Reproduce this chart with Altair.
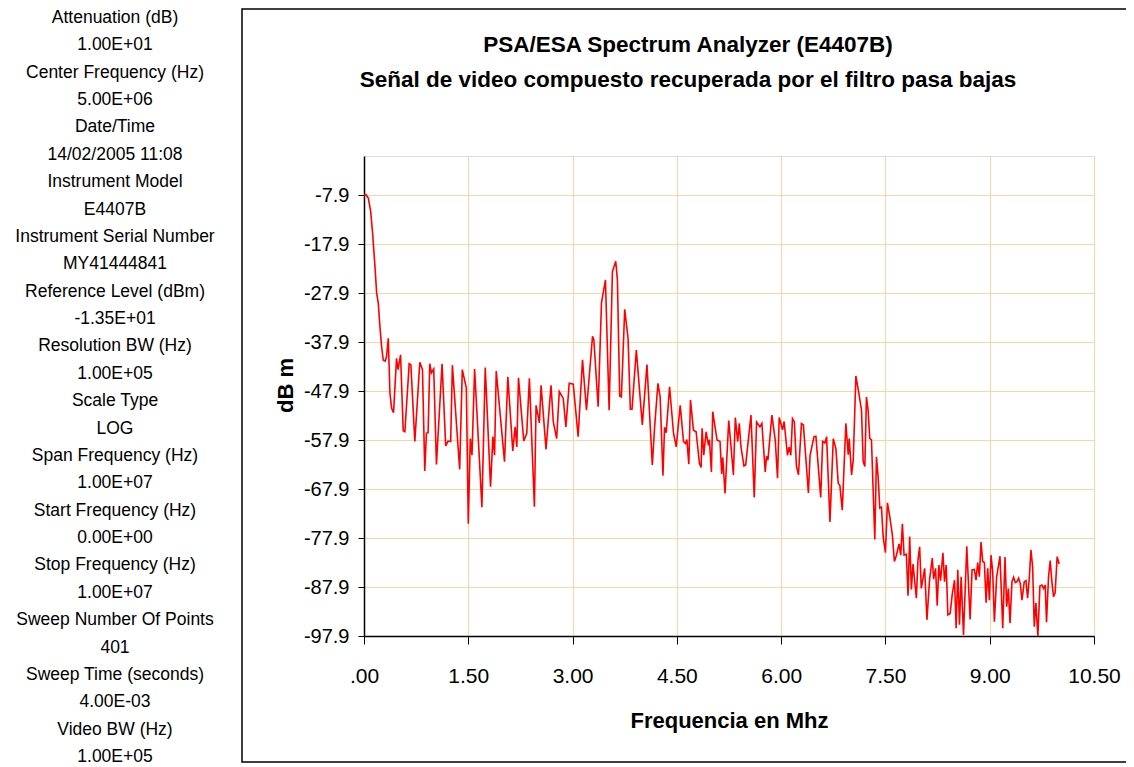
import altair as alt
import pandas as pd

# ---------------- data ----------------
FREQ_MHZ = [
    0.000, 0.029, 0.062, 0.096, 0.124, 0.158, 0.182, 0.205, 0.229, 0.253,
    0.277, 0.306, 0.325, 0.349, 0.373, 0.397, 0.425, 0.468, 0.490, 0.526,
    0.564, 0.588, 0.650, 0.674, 0.731, 0.803, 0.841, 0.874, 0.898, 0.922,
    0.946, 0.970, 1.003, 1.042, 1.123, 1.175, 1.209, 1.247, 1.271, 1.376,
    1.414, 1.472, 1.500, 1.529, 1.553, 1.591, 1.696, 1.744, 1.820, 1.854,
    1.878, 1.902, 2.021, 2.069, 2.140, 2.174, 2.198, 2.222, 2.298, 2.341,
    2.379, 2.451, 2.475, 2.523, 2.547, 2.618, 2.690, 2.723, 2.771, 2.809,
    2.866, 2.904, 2.952, 3.010, 3.080, 3.143, 3.200, 3.287, 3.306, 3.368,
    3.416, 3.473, 3.526, 3.573, 3.621, 3.645, 3.678, 3.702, 3.750, 3.798,
    3.831, 3.855, 3.917, 4.003, 4.070, 4.147, 4.180, 4.228, 4.260, 4.300,
    4.323, 4.347, 4.395, 4.452, 4.491, 4.548, 4.596, 4.624, 4.644, 4.672,
    4.696, 4.739, 4.777, 4.825, 4.849, 4.863, 4.887, 4.921, 4.954, 4.968,
    4.997, 5.016, 5.078, 5.121, 5.145, 5.160, 5.193, 5.246, 5.279, 5.313,
    5.341, 5.375, 5.398, 5.422, 5.465, 5.490, 5.566, 5.613, 5.647, 5.695,
    5.723, 5.771, 5.790, 5.810, 5.867, 5.915, 5.948, 5.972, 6.020, 6.043,
    6.091, 6.115, 6.139, 6.163, 6.190, 6.220, 6.249, 6.292, 6.320, 6.392,
    6.416, 6.473, 6.500, 6.569, 6.597, 6.630, 6.654, 6.702, 6.750, 6.788,
    6.821, 6.845, 6.879, 6.931, 6.965, 6.979, 7.013, 7.037, 7.075, 7.122,
    7.156, 7.180, 7.204, 7.227, 7.251, 7.275, 7.299, 7.347, 7.371, 7.395,
    7.419, 7.443, 7.467, 7.500, 7.529, 7.562, 7.600, 7.629, 7.658, 7.696,
    7.720, 7.744, 7.768, 7.801, 7.825, 7.849, 7.873, 7.897, 7.945, 7.968,
    7.992, 8.016, 8.064, 8.097, 8.135, 8.174, 8.193, 8.221, 8.245, 8.269,
    8.293, 8.327, 8.350, 8.374, 8.398, 8.431, 8.460, 8.494, 8.517, 8.541,
    8.565, 8.589, 8.623, 8.670, 8.718, 8.746, 8.779, 8.803, 8.827, 8.851,
    8.875, 8.899, 8.923, 8.948, 8.971, 8.995, 9.019, 9.043, 9.067, 9.100,
    9.148, 9.187, 9.220, 9.244, 9.268, 9.292, 9.320, 9.344, 9.368, 9.392,
    9.416, 9.440, 9.464, 9.497, 9.521, 9.545, 9.569, 9.593, 9.617, 9.641,
    9.664, 9.693, 9.722, 9.751, 9.774, 9.798, 9.817, 9.846, 9.870, 9.894,
    9.918, 9.941, 9.970, 9.999,
]

LEVEL_DBM = [
    -7.9, -7.8, -8.5, -11.2, -15.7, -22.5, -27.9, -29.9, -34.7, -38.8,
    -41.6, -41.8, -40.8, -37.1, -48.3, -51.4, -52.3, -41.2, -43.5, -40.5,
    -56.0, -56.2, -42.3, -42.5, -58.2, -42.0, -43.5, -64.2, -56.5, -56.4,
    -42.3, -44.2, -43.4, -62.9, -42.3, -59.1, -58.1, -58.2, -42.6, -63.9,
    -43.5, -47.3, -75.0, -57.6, -61.0, -43.4, -71.6, -43.1, -67.4, -57.2,
    -61.0, -43.8, -62.3, -45.0, -60.1, -55.2, -59.3, -45.2, -58.1, -56.5,
    -45.3, -71.5, -50.8, -54.4, -46.7, -59.8, -46.7, -54.2, -57.6, -48.0,
    -49.4, -55.2, -46.3, -46.5, -57.2, -41.5, -51.8, -36.7, -37.4, -51.1,
    -29.9, -25.2, -51.8, -23.5, -21.4, -25.2, -48.9, -49.1, -31.2, -37.1,
    -51.6, -51.6, -39.5, -54.8, -42.5, -63.0, -55.2, -46.3, -49.1, -65.2,
    -55.3, -56.4, -47.0, -56.5, -59.3, -50.8, -58.2, -58.6, -57.8, -62.8,
    -49.7, -55.9, -56.2, -62.7, -63.5, -55.5, -61.0, -56.2, -59.0, -57.8,
    -64.4, -52.1, -57.9, -58.2, -64.8, -61.4, -68.8, -53.9, -59.3, -65.0,
    -53.3, -58.2, -54.5, -59.3, -63.2, -63.0, -52.8, -69.6, -54.2, -55.2,
    -54.5, -64.4, -61.2, -62.0, -52.8, -57.9, -65.7, -53.3, -55.8, -54.1,
    -61.0, -59.3, -61.0, -53.5, -54.2, -63.2, -65.0, -54.5, -54.8, -68.7,
    -61.0, -57.2, -57.1, -69.6, -58.2, -58.5, -57.2, -74.6, -57.6, -59.7,
    -66.7, -67.2, -72.2, -54.5, -60.9, -57.6, -65.0, -62.0, -44.8, -48.7,
    -51.8, -62.3, -63.3, -49.1, -51.8, -57.6, -57.8, -78.2, -61.3, -65.4,
    -71.8, -71.6, -77.6, -80.9, -70.7, -73.5, -77.3, -82.7, -81.4, -79.1,
    -81.4, -75.0, -81.4, -81.2, -89.7, -77.6, -88.4, -83.2, -90.2, -82.4,
    -79.7, -88.2, -84.1, -94.6, -86.4, -82.0, -86.3, -84.1, -91.7, -83.4,
    -86.6, -80.9, -86.8, -83.4, -93.6, -93.3, -89.5, -86.5, -96.3, -84.4,
    -95.6, -85.8, -97.7, -79.6, -94.5, -84.4, -84.3, -86.5, -82.9, -85.8,
    -78.7, -82.7, -82.9, -91.1, -84.1, -90.6, -81.4, -84.8, -95.0, -85.8,
    -81.6, -96.3, -81.8, -91.9, -88.2, -95.3, -86.8, -85.9, -87.0, -86.8,
    -86.1, -87.2, -90.6, -86.8, -86.6, -90.2, -86.1, -80.3, -83.7, -96.0,
    -91.1, -97.9, -87.7, -87.5, -88.2, -87.5, -95.1, -85.8, -82.5, -86.8,
    -89.9, -89.1, -81.7, -83.2,
]

X_TICKS = [0.0, 1.5, 3.0, 4.5, 6.0, 7.5, 9.0, 10.5]
Y_TICKS = [-97.9, -87.9, -77.9, -67.9, -57.9, -47.9, -37.9, -27.9, -17.9, -7.9]

TITLE_LINES = [
    "PSA/ESA Spectrum Analyzer (E4407B)",
    "Señal de video compuesto recuperada por el filtro pasa bajas",
]

INFO_LINES = [
    "Attenuation (dB)", "1.00E+01",
    "Center Frequency (Hz)", "5.00E+06",
    "Date/Time", "14/02/2005 11:08",
    "Instrument Model", "E4407B",
    "Instrument Serial Number", "MY41444841",
    "Reference Level (dBm)", "-1.35E+01",
    "Resolution BW (Hz)", "1.00E+05",
    "Scale Type", "LOG",
    "Span Frequency (Hz)", "1.00E+07",
    "Start Frequency (Hz)", "0.00E+00",
    "Stop Frequency (Hz)", "1.00E+07",
    "Sweep Number Of Points", "401",
    "Sweep Time (seconds)", "4.00E-03",
    "Video BW (Hz)", "1.00E+05",
]

df = pd.DataFrame({"f": FREQ_MHZ, "dbm": LEVEL_DBM})

REG = "Liberation Sans, Arial, sans-serif"

PW, PH = 730, 480

x_enc = alt.X(
    "f:Q",
    scale=alt.Scale(domain=[0, 10.5], nice=False, zero=False),
    axis=alt.Axis(
        values=X_TICKS,
        labelExpr="datum.value == 0 ? '.00' : format(datum.value, '.2f')",
        labelFont=REG, labelFontSize=21, labelColor="black",
        labelPadding=21, tickSize=8, tickColor="black",
        labelFlush=False, labelOverlap=False,
        domainColor="black", domainWidth=1.5,
        grid=True, gridColor="#FFD3A3", gridWidth=1,
        title="Frequencia en Mhz", titleFont=REG, titleFontSize=22,
        titleFontWeight="bold", titleColor="black",
        titleY=84, titleBaseline="middle",
    ),
)
y_enc = alt.Y(
    "dbm:Q",
    scale=alt.Scale(domain=[-97.9, 0.1], nice=False, zero=False),
    axis=alt.Axis(
        values=Y_TICKS,
        labelExpr="replace(format(datum.value, '.1f'), '\u2212', '-')",
        labelFont=REG, labelFontSize=20, labelColor="black",
        labelPadding=9, tickSize=6, tickColor="black",
        labelFlush=False, labelOverlap=False,
        domainColor="black", domainWidth=1.5,
        grid=True, gridColor="#FFD3A3", gridWidth=1,
        title="dB m", titleFont=REG, titleFontSize=22,
        titleFontWeight="bold", titleColor="black",
        titleAngle=270, titleX=-79, titleY=229, titleBaseline="middle",
        titleAlign="center",
    ),
)

trace = alt.Chart(df).mark_line(color="#FF0000", strokeWidth=1.6, clip=True).encode(
    x=x_enc, y=y_enc
)

frame = alt.Chart(alt.Data(values=[{}])).mark_rect(
    fillOpacity=0, stroke="black", strokeWidth=1.5
).encode(
    x=alt.value(-122), x2=alt.value(790), y=alt.value(-147), y2=alt.value(606)
)

title = alt.Chart(alt.Data(values=[{}])).mark_text(
    text=TITLE_LINES, font=REG, fontSize=22.5, fontWeight="bold", lineHeight=35,
    align="center", baseline="middle", color="black",
).encode(x=alt.value(324), y=alt.value(-111))

info = alt.Chart(alt.Data(values=[{}])).mark_text(
    text=INFO_LINES, font=REG, fontSize=17.5, lineHeight=27.37,
    align="center", baseline="middle", color="black",
).encode(x=alt.value(-249), y=alt.value(-138))

chart = alt.layer(frame, trace, title, info).properties(
    width=PW, height=PH,
    autosize=alt.AutoSizeParams(type="none"),
    padding={"left": 356, "top": 148, "right": 32, "bottom": 131},
).configure_view(
    fill="#F6F6F6", stroke="#FFC98F", strokeWidth=2
).configure(background="white")

chart.save("out.html", embed_options={"renderer": "svg", "actions": False})
